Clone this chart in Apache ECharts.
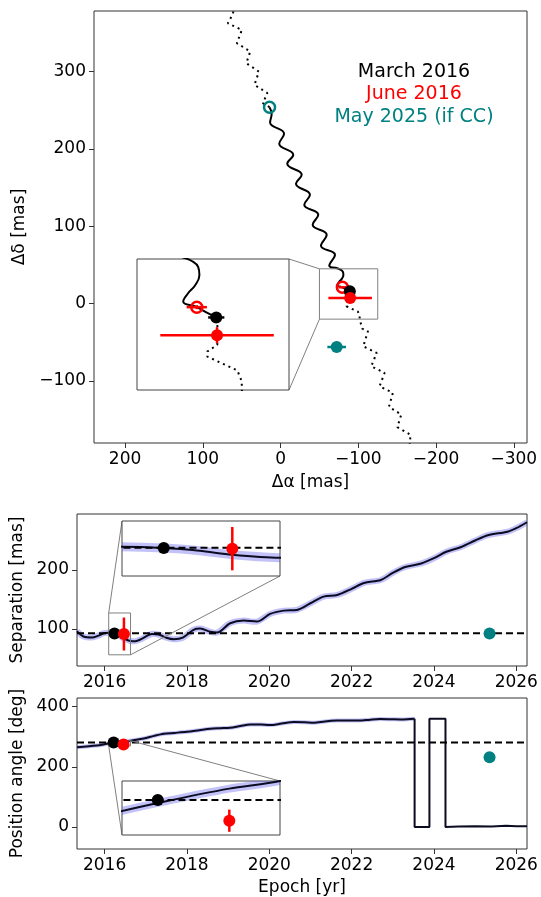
<!DOCTYPE html>
<html><head><meta charset="utf-8">
<script src="https://cdn.jsdelivr.net/npm/echarts@6/dist/echarts.min.js"></script>
<style>html,body{margin:0;padding:0;background:#fff}#c{width:541px;height:897px}</style>
</head><body><div id="c"></div>
<script>
// ---------- data ----------
// sky track of a background star (Δα, Δδ) in mas, in time order
const trackBefore = [[-166,-183],[-166.4,-177.7],[-167.3,-169.4],[-150.2,-159.6],[-155.3,-143.2],[-139.4,-133.3],[-144.5,-115.2],[-127.4,-106.7],[-133.8,-89.4],[-116.7,-80.9],[-123.6,-63.6],[-106.4,-55.1],[-112.4,-35.7],[-105.1,-32.3],[-101.7,-20],[-101.7,-15.7],[-99.5,-10.3],[-84.7,-3.4],[-84.7,-0.9],[-89.6,2.4],[-90,9],[-89.1,16]];
const trackSolid = [[-89.1,16],[-84,18.6],[-79.5,21.1],[-72.8,23.9],[-75.2,28],[-78.7,32],[-80.8,37],[-80.2,41],[-77,44],[-72,46],[-62.7,49],[-70,63.2],[-52,74.8],[-59.3,89],[-41.3,101.9],[-48.5,114.8],[-30.5,127.7],[-37.8,140.6],[-19.8,154.8],[-27.2,166.5],[-8.6,180.6],[-16.3,192.3],[1.7,206.5],[-4.5,219.5],[13.5,234],[11.5,245],[14.2,253.8]];
const trackAfter = [[14.2,253.8],[22.8,259],[17,272],[33.5,282.6],[27.9,299.7],[44.1,310.6],[39,325.6],[56.2,336.4],[49.8,353.5],[67.8,362.2],[61.4,374.2],[59,385]];
// points: [x, y, xerr, yerr]
const skyMarch2016 = [-89.1, 16, 4, 2.5];
const skyJune2016 = [-89.5, 7.2, 28, 4];
const skyJune2016Pred = [-79.5, 21.1, 5, 1];
const skyMay2025Pred = [14.2, 253.8];
const skyMay2025CC = [-72.2, -56, 12, 2];
// separation [mas] vs epoch
const sepCurve = [[2015.33,96],[2015.49,87],[2015.69,85.3],[2015.85,88.5],[2015.98,92.7],[2016.1,93.6],[2016.24,92],[2016.36,88.5],[2016.47,83.5],[2016.63,79.5],[2016.75,79.2],[2016.9,83],[2017.15,91.5],[2017.31,90.5],[2017.5,85],[2017.68,82.5],[2017.9,85],[2018.16,98.5],[2018.32,100.5],[2018.57,95],[2018.73,93.7],[2019.05,109.6],[2019.38,114.1],[2019.7,112.4],[2020.02,125.4],[2020.35,131],[2020.67,132.2],[2021.0,143.5],[2021.32,154.8],[2021.65,157.6],[2022.0,168],[2022.3,178],[2022.71,183],[2023.0,195],[2023.3,205],[2023.69,211],[2024.0,220],[2024.3,231],[2024.66,239],[2025.0,250],[2025.31,259],[2025.79,265],[2026.0,271],[2026.26,281]];
const sepMarch2016 = [2016.24, 92, 0, 1];
const sepJune2016 = [2016.47, 91.3, 0, 28];
const sepMay2025 = [2025.35, 92];
const sepRef = 92.5;
// position angle [deg] vs epoch
const paCurve = [[2015.33,265.6],[2015.81,271],[2016.06,276.7],[2016.24,280.5],[2016.46,284.6],[2016.63,287],[2016.95,294.4],[2017.2,303],[2017.44,310],[2017.7,313],[2018.0,316.7],[2018.3,322],[2018.57,326.7],[2018.8,328.5],[2019.05,330],[2019.3,336],[2019.54,341],[2019.8,340.5],[2020.02,339],[2020.3,344],[2020.6,349],[2020.85,348.5],[2021.09,346.7],[2021.35,351],[2021.65,354],[2021.9,354.5],[2022.18,354],[2022.45,357],[2022.69,359],[2022.95,358.5],[2023.19,357.8],[2023.35,358.5],[2023.53,360]];
const paWrap = [[2023.53,360],[2023.53,0.5],[2023.89,0.5],[2023.89,360],[2024.28,360],[2024.28,0.5],[2024.6,1.5],[2025.0,2.5],[2025.4,2],[2025.75,4],[2026.0,3],[2026.26,2.5]];
const paMarch2016 = [2016.22, 281, 0, 0.5];
const paJune2016 = [2016.46, 274.5, 0, 3.5];
const paMay2025 = [2025.35, 232];
const paRef = 281;
// axis ranges and ticks
const skyRangeX = [-317, 240];
const skyRangeY = [-180, 378];
const skyTicksX = [-300, -200, -100, 0, 100, 200];
const skyTicksY = [-100, 0, 100, 200, 300];
const epochRange = [2015.33, 2026.26];
const epochTicks = [2016, 2018, 2020, 2022, 2024, 2026];
const sepRange = [37, 295];
const sepTicks = [100, 200];
const paRange = [-73, 429];
const paTicks = [0, 200, 400];
// inset (zoom) ranges
const skyZoomX = [-125, -50];
const skyZoomY = [-20, 45];
const sepZoomX = [2016.1, 2016.63];
const sepZoomY = [56, 127];
const paZoomX = [2016.1, 2016.63];
const paZoomY = [270, 287];
// labels
const legendTexts = ['March 2016', 'June 2016', 'May 2025 (if CC)'];

// ---------- styling ----------
const FONT = 'DejaVu Sans';
const RED = '#ff0000', TEAL = '#008080', BLACK = '#000000';
const BAND = 'rgba(80,80,235,0.35)';
const minus = v => String(v).replace('-', '\u2212');

function mainGrid(l, t, w, h) {
  return {left: l, top: t, width: w, height: h, show: true, backgroundColor: 'rgba(0,0,0,0)', borderColor: '#333', borderWidth: 1};
}
function insetGrid(l, t, w, h) {
  return {left: l, top: t, width: w, height: h, show: true, backgroundColor: '#fff', borderColor: '#444', borderWidth: 1, z: 10};
}
function valAxis(gi, range, ticks, extra) {
  return Object.assign({
    type: 'value', gridIndex: gi, min: range[0], max: range[1],
    axisLine: {show: false, onZero: false},
    axisTick: {show: true, inside: false, length: 5, lineStyle: {color: '#333', width: 1}, customValues: ticks},
    axisLabel: {show: true, customValues: ticks, margin: 8, color: '#000', fontSize: 17, fontFamily: FONT, formatter: v => minus(v)},
    splitLine: {show: false},
    nameTextStyle: {color: '#000', fontSize: 17, fontFamily: FONT}
  }, extra || {});
}
function hiddenAxis(gi, range, inverse) {
  return {type: 'value', gridIndex: gi, min: range[0], max: range[1], inverse: !!inverse, show: false,
    axisLine: {show: false, onZero: false}, splitLine: {show: false}};
}
function line(data, xi, yi, z, style, smooth) {
  return {type: 'line', xAxisIndex: xi, yAxisIndex: yi, z: z, silent: true, data: data,
    showSymbol: false, symbol: 'none', smooth: smooth || false, clip: true, lineStyle: style};
}
// uncertainty band drawn as a wide translucent polyline (custom series clips exactly to the grid)
function band(data, xi, yi, z, width) {
  return {type: 'custom', xAxisIndex: xi, yAxisIndex: yi, z: z, silent: true, clip: true,
    data: [data[0]],
    renderItem: function (params, api) {
      const pts = data.map(p => api.coord(p));
      return {type: 'polyline', shape: {points: pts, smooth: 0.3}, style: {stroke: BAND, lineWidth: width, fill: null, lineJoin: 'round'}};
    }};
}
function dot(pt, xi, yi, z, color, size, open) {
  return {type: 'scatter', xAxisIndex: xi, yAxisIndex: yi, z: z, silent: true, symbol: 'circle', symbolSize: size,
    clip: true, data: [[pt[0], pt[1]]],
    itemStyle: open ? {color: 'rgba(255,255,255,0)', borderColor: color, borderWidth: 2.5, opacity: 1} : {color: color, opacity: 1}};
}
function errBars(items, colors, xi, yi, z) {
  return {
    type: 'custom', xAxisIndex: xi, yAxisIndex: yi, z: z, silent: true, clip: true,
    data: items.map(p => [p[0], p[1], p[2], p[3]]),
    renderItem: function (params, api) {
      const x = api.value(0), y = api.value(1), ex = api.value(2), ey = api.value(3);
      const c = colors[params.dataIndex];
      const ch = [];
      if (ex > 0) {
        const a = api.coord([x - ex, y]), b = api.coord([x + ex, y]);
        ch.push({type: 'line', shape: {x1: a[0], y1: a[1], x2: b[0], y2: b[1]}, style: {stroke: c, lineWidth: 2.5}});
      }
      if (ey > 0) {
        const a = api.coord([x, y - ey]), b = api.coord([x, y + ey]);
        ch.push({type: 'line', shape: {x1: a[0], y1: a[1], x2: b[0], y2: b[1]}, style: {stroke: c, lineWidth: 2.5}});
      }
      return {type: 'group', children: ch};
    }
  };
}
function box(zx, zy, xi, yi) {
  return line([[zx[0], zy[0]], [zx[1], zy[0]], [zx[1], zy[1]], [zx[0], zy[1]], [zx[0], zy[0]]], xi, yi, 3, {color: '#808080', width: 1});
}
const dotted = {color: BLACK, width: 2, type: [2, 4]};
const solid = {color: BLACK, width: 2};
const CURVE = '#0b0b22';

function skySeries(xi, yi, zb) {
  return [
    line(trackBefore, xi, yi, zb, dotted),
    line(trackAfter, xi, yi, zb, dotted),
    line(trackSolid, xi, yi, zb, solid, 0.45),
    errBars([skyJune2016Pred, skyMarch2016, skyJune2016, skyMay2025CC], [RED, BLACK, RED, TEAL], xi, yi, zb + 1),
    dot(skyJune2016Pred, xi, yi, zb + 2, RED, 11, true),
    dot(skyMay2025Pred, xi, yi, zb + 2, TEAL, 11, true),
    dot(skyMarch2016, xi, yi, zb + 2, BLACK, 12),
    dot(skyJune2016, xi, yi, zb + 2, RED, 12),
    dot(skyMay2025CC, xi, yi, zb + 2, TEAL, 12)
  ];
}
function sepSeries(xi, yi, zb, bandW, withTeal) {
  const s = [
    band(sepCurve, xi, yi, zb, bandW),
    line(sepCurve, xi, yi, zb, {color: CURVE, width: 2}, 0.3),
    line([[epochRange[0], sepRef], [epochRange[1], sepRef]], xi, yi, zb, {color: BLACK, width: 2, type: [7, 4]}),
    errBars([sepMarch2016, sepJune2016], [BLACK, RED], xi, yi, zb + 1),
    dot(sepMarch2016, xi, yi, zb + 2, BLACK, 12),
    dot(sepJune2016, xi, yi, zb + 2, RED, 12)
  ];
  if (withTeal) s.push(dot(sepMay2025, xi, yi, zb + 2, TEAL, 12));
  return s;
}
function paSeries(xi, yi, zb, bandW, withTeal) {
  const s = [
    band(paCurve, xi, yi, zb, bandW),
    line(paCurve, xi, yi, zb, {color: CURVE, width: 2}, 0.3),
    line(paWrap, xi, yi, zb, {color: CURVE, width: 2}),
    line([[epochRange[0], paRef], [epochRange[1], paRef]], xi, yi, zb, {color: BLACK, width: 2, type: [7, 4]}),
    errBars([paMarch2016, paJune2016], [BLACK, RED], xi, yi, zb + 1),
    dot(paMarch2016, xi, yi, zb + 2, BLACK, 12),
    dot(paJune2016, xi, yi, zb + 2, RED, 12)
  ];
  if (withTeal) s.push(dot(paMay2025, xi, yi, zb + 2, TEAL, 12));
  return s;
}

const chart = echarts.init(document.getElementById('c'));
const option = {
  animation: false,
  backgroundColor: '#fff',
  textStyle: {fontFamily: FONT},
  grid: [
    mainGrid(94, 11, 433, 432),
    insetGrid(137, 259, 152, 131),
    mainGrid(77, 514, 450, 152),
    insetGrid(122, 521, 158, 55),
    mainGrid(77, 698, 450, 151),
    insetGrid(122, 781, 158, 54)
  ],
  xAxis: [
    valAxis(0, skyRangeX, skyTicksX, {inverse: true, name: 'Δα [mas]', nameLocation: 'middle', nameGap: 31}),
    hiddenAxis(1, skyZoomX, true),
    valAxis(2, epochRange, epochTicks),
    hiddenAxis(3, sepZoomX),
    valAxis(4, epochRange, epochTicks, {name: 'Epoch [yr]', nameLocation: 'middle', nameGap: 30}),
    hiddenAxis(5, paZoomX)
  ],
  yAxis: [
    valAxis(0, skyRangeY, skyTicksY, {name: 'Δδ [mas]', nameLocation: 'middle', nameGap: 63}),
    hiddenAxis(1, skyZoomY),
    valAxis(2, sepRange, sepTicks, {name: 'Separation [mas]', nameLocation: 'middle', nameGap: 47}),
    hiddenAxis(3, sepZoomY),
    valAxis(4, paRange, paTicks, {name: 'Position angle [deg]', nameLocation: 'middle', nameGap: 47}),
    hiddenAxis(5, paZoomY)
  ],
  series: [].concat(
    skySeries(0, 0, 2),
    [box(skyZoomX, skyZoomY, 0, 0)],
    skySeries(1, 1, 12),
    sepSeries(2, 2, 2, 6, true),
    [box(sepZoomX, sepZoomY, 2, 2)],
    sepSeries(3, 3, 12, 9, false),
    paSeries(4, 4, 2, 4, true),
    [box(paZoomX, paZoomY, 4, 4)],
    paSeries(5, 5, 12, 8, false)
  )
};
chart.setOption(option);

// connector lines between zoom boxes and insets
function px(i, v) { return chart.convertToPixel({xAxisIndex: i, yAxisIndex: i}, v); }
function conn(a, b) {
  return {type: 'line', silent: true, z: 5, shape: {x1: a[0], y1: a[1], x2: b[0], y2: b[1]}, style: {stroke: '#808080', lineWidth: 1}};
}
const graphics = [
  conn(px(0, [skyZoomX[1], skyZoomY[1]]), px(1, [skyZoomX[0], skyZoomY[1]])),
  conn(px(0, [skyZoomX[1], skyZoomY[0]]), px(1, [skyZoomX[0], skyZoomY[0]])),
  conn(px(2, [sepZoomX[0], sepZoomY[1]]), px(3, [sepZoomX[0], sepZoomY[1]])),
  conn(px(2, [sepZoomX[1], sepZoomY[0]]), px(3, [sepZoomX[1], sepZoomY[0]])),
  conn(px(4, [paZoomX[0], paZoomY[0]]), px(5, [paZoomX[0], paZoomY[0]])),
  conn(px(4, [paZoomX[1], paZoomY[1]]), px(5, [paZoomX[1], paZoomY[1]]))
];
const legendColors = [BLACK, RED, TEAL];
legendTexts.forEach((t, i) => {
  graphics.push({type: 'text', silent: true, z: 20, x: 414, y: 72 + 22.3 * i,
    style: {text: t, fill: legendColors[i], font: '19px "' + FONT + '"', align: 'center', verticalAlign: 'middle'}});
});
chart.setOption({graphic: graphics});
</script>
</body></html>
